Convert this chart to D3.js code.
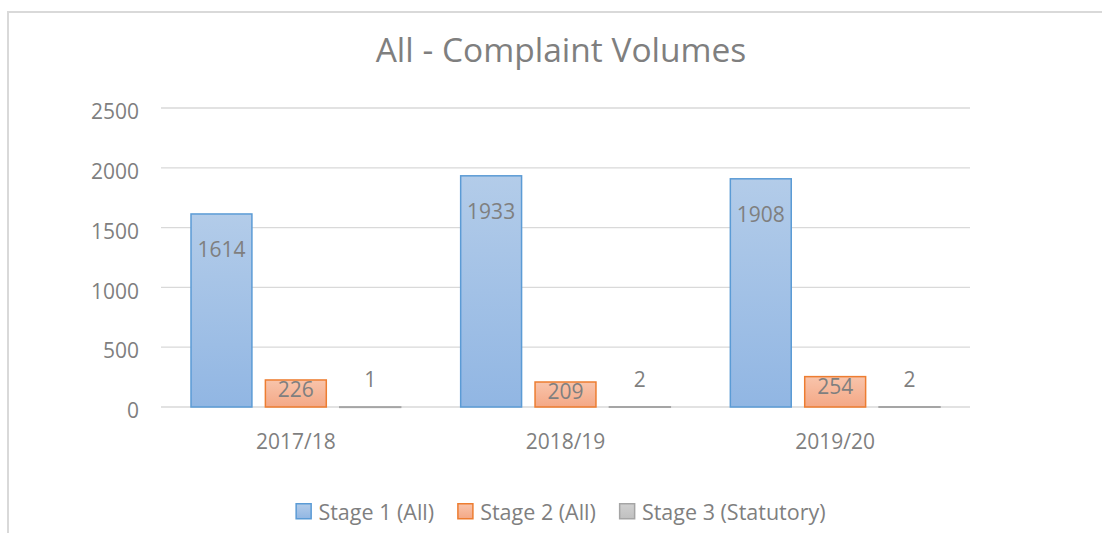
<!DOCTYPE html>
<html><head><meta charset="utf-8">
<script src="https://cdn.jsdelivr.net/npm/d3@7"></script>
<style>html,body{margin:0;padding:0;background:#fff;}svg{display:block;}</style>
</head><body>
<svg id="c" width="1102" height="533"></svg>
<script>
const categories = ["2017/18", "2018/19", "2019/20"];
const seriesNames = ["Stage 1 (All)", "Stage 2 (All)", "Stage 3 (Statutory)"];
const stage1 = [1614, 1933, 1908];
const stage2 = [226, 209, 254];
const stage3 = [1, 2, 2];
const yTicks = [0, 500, 1000, 1500, 2000, 2500];
const title = "All - Complaint Volumes";

const seriesValues = [stage1, stage2, stage3];
const fills = [["#b3cce9", "#91b6e3"], ["#f8c4ab", "#f4a886"], ["#d0d0d0", "#c0c0c0"]];
const strokes = ["#5b9bd5", "#ed7d31", "#a5a5a5"];
const labelOffset = [43, 17, -20];
const textColor = "#7f7f7f";
const font = "'Open Sans', sans-serif";

const svg = d3.select("#c");
const defs = svg.append("defs");
fills.forEach((f, i) => {
  const g = defs.append("linearGradient").attr("id", "g" + i)
    .attr("x1", 0).attr("y1", 0).attr("x2", 0).attr("y2", 1);
  g.append("stop").attr("offset", "0%").attr("stop-color", f[0]);
  g.append("stop").attr("offset", "100%").attr("stop-color", f[1]);
});

// chart frame
svg.append("path").attr("d", "M8,533 L8,12 L1102,12")
  .attr("fill", "none").attr("stroke", "#d9d9d9").attr("stroke-width", 2);

const pLeft = 161, pRight = 970, pTop = 108, pBottom = 407;
const y = d3.scaleLinear().domain([0, 2500]).range([pBottom, pTop]);
const x0 = d3.scaleBand().domain(categories).range([pLeft, pRight]).paddingInner(0).paddingOuter(0);
const x1 = d3.scaleBand().domain(d3.range(seriesNames.length))
  .range([30, x0.bandwidth() - 30]).paddingInner(0.181).paddingOuter(0);

// gridlines
svg.append("g").selectAll("line").data(yTicks).join("line")
  .attr("x1", pLeft).attr("x2", pRight)
  .attr("y1", d => y(d)).attr("y2", d => y(d))
  .attr("stroke", "#d9d9d9").attr("stroke-width", 1.3);

// y axis labels
const yAxis = d3.axisLeft(y).tickValues(yTicks).tickFormat(d3.format("d")).tickSize(0).tickPadding(0);
const ya = svg.append("g").attr("transform", `translate(139,0)`).call(yAxis);
ya.select(".domain").remove();
ya.selectAll("text").attr("fill", textColor).style("font-family", font).style("font-size", "21px")
  .attr("y", 4);

// x axis labels
const xAxis = d3.axisBottom(x0).tickSize(0).tickPadding(0);
const xa = svg.append("g").attr("transform", `translate(0,${pBottom})`).call(xAxis);
xa.select(".domain").remove();
xa.selectAll("text").attr("fill", textColor).style("font-family", font).style("font-size", "21px")
  .attr("dy", null).attr("y", 42);

// bars
const groups = svg.append("g").selectAll("g").data(categories).join("g")
  .attr("transform", d => `translate(${x0(d)},0)`);
groups.each(function(cat, ci) {
  const g = d3.select(this);
  seriesValues.forEach((vals, si) => {
    const v = vals[ci];
    g.append("rect")
      .attr("x", x1(si)).attr("width", x1.bandwidth())
      .attr("y", y(v)).attr("height", Math.max(0.5, y(0) - y(v)))
      .attr("fill", `url(#g${si})`).attr("stroke", strokes[si]).attr("stroke-width", 1.5);
    g.append("text")
      .attr("x", x1(si) + x1.bandwidth() / 2)
      .attr("y", y(v) + labelOffset[si])
      .attr("text-anchor", "middle")
      .attr("fill", textColor).style("font-family", font).style("font-size", "21px")
      .text(v);
  });
});

// title
svg.append("text").attr("x", 561).attr("y", 62).attr("text-anchor", "middle")
  .attr("fill", textColor).style("font-family", font).style("font-size", "33.5px").text(title);

// legend
const leg = svg.append("g");
let cx = 0;
seriesNames.forEach((n, i) => {
  const it = leg.append("g").attr("transform", `translate(${cx},0)`);
  it.append("rect").attr("x", 0.75).attr("y", 503.75).attr("width", 15).attr("height", 15)
    .attr("fill", `url(#g${i})`).attr("stroke", strokes[i]).attr("stroke-width", 1.5);
  const t = it.append("text").attr("x", 23).attr("y", 520)
    .attr("fill", textColor).style("font-family", font).style("font-size", "21.5px").text(n);
  cx += 23 + t.node().getComputedTextLength() + 23;
});
const lw = cx - 23;
leg.attr("transform", `translate(${560.5 - lw / 2},0)`);
</script>
</body></html>
